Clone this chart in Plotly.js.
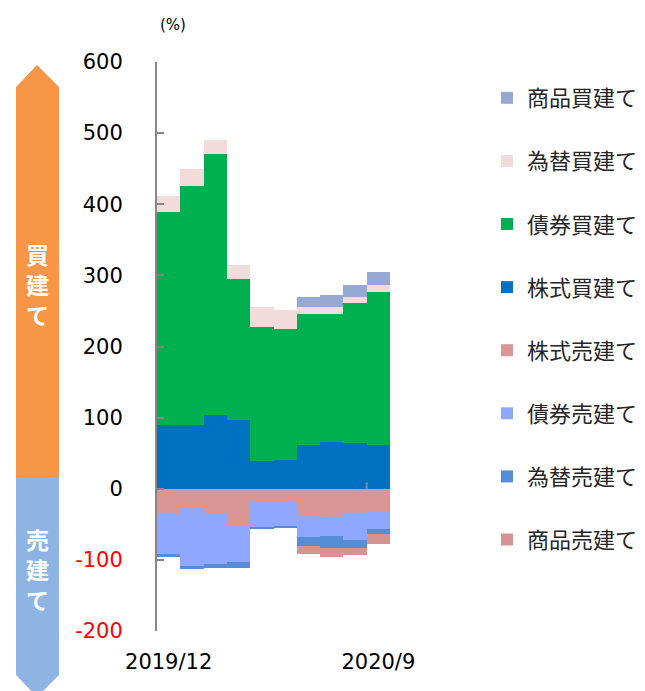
<!DOCTYPE html>
<html><head><meta charset="utf-8">
<script src="https://cdn.plot.ly/plotly-3.0.1.min.js"></script>
<style>body{margin:0;background:#fff}</style></head>
<body><div id="chart" style="width:645px;height:691px"></div>
<script>
const months = ['2019/12','2020/1','2020/2','2020/3','2020/4','2020/5','2020/6','2020/7','2020/8','2020/9'];
const shownTicks = ['2019/12','2020/9'];
const stockBuy  = [89, 90, 103, 97, 39, 40, 62, 66, 64, 61];
const bondBuy   = [300, 335, 368, 198, 189, 185, 184, 180, 197, 216];
const fxBuy     = [22, 25, 20, 19, 27, 27, 9, 10, 9, 9];
const commBuy   = [0, 0, 0, 0, 0, 0, 15, 17, 17, 19];
const stockSell = [-36, -26, -34, -51, -17, -17, -37, -41, -35, -32];
const bondSell  = [-56, -82, -72, -52, -37, -36, -31, -25, -37, -25];
const fxSell    = [-4, -5, -5, -9, -2, -2, -12, -17, -11, -7];
const commSell  = [0, 0, 0, 0, 0, 0, -12, -13, -10, -14];
const yTickVals = [-200, -100, 0, 100, 200, 300, 400, 500, 600];

const W = 645, H = 691, ML = 157, MR = 255, MT = 62, MB = 60;
const PW = W - ML - MR, PH = H - MT - MB;
const X = px => (px - ML) / PW;
const Y = py => (H - MB - py) / PH;

function bar(name, y, color, rank) {
  return {type: 'bar', name: name, x: months, y: y, width: 1,
    marker: {color: color, line: {width: 0}}, legendgroup: name, legendrank: rank,
    hoverinfo: 'skip'};
}
const data = [
  bar('株式買建て', stockBuy, '#0070C0', 4),
  bar('債券買建て', bondBuy, '#00B050', 3),
  bar('為替買建て', fxBuy, '#F2DCDB', 2),
  bar('商品買建て', commBuy, '#95A9D2', 1),
  bar('株式売建て', stockSell, '#DA9694', 5),
  bar('債券売建て', bondSell, '#8FA7FF', 6),
  bar('為替売建て', fxSell, '#558ED5', 7),
  bar('商品売建て', commSell, '#D69393', 8)
];

const yTickText = yTickVals.map(v => v < 0 ? '<span style="color:#FF0000">' + v + '</span>' : String(v));

function poly(pts) {
  return 'M' + pts.map(p => X(p[0]) + ',' + Y(p[1])).join('L') + 'Z';
}
const shapes = [
  {type: 'path', xref: 'paper', yref: 'paper', path: poly([[16,87],[37,65],[59,87],[59,477],[16,477]]),
   fillcolor: '#F79646', line: {width: 0}},
  {type: 'path', xref: 'paper', yref: 'paper', path: poly([[16,477],[59,477],[59,675],[37,697],[16,675]]),
   fillcolor: '#8DB4E2', line: {width: 0}},
  {type: 'line', xref: 'x', yref: 'y', x0: 8.5, x1: 8.5, y0: 0, y1: 9, line: {color: '#868686', width: 2}, layer: 'above'}
];

const cjk = '"Noto Sans CJK JP", "Noto Sans", sans-serif';
function vtext(t, py) {
  return {xref: 'paper', yref: 'paper', x: X(37.5), y: Y(py), text: '<b>' + t + '</b>', showarrow: false,
    xanchor: 'center', yanchor: 'middle', align: 'center', font: {family: cjk, size: 23, color: '#FFFFFF'}};
}
const annotations = [
  vtext('買<br>建<br>て', 284),
  vtext('売<br>建<br>て', 569),
  {xref: 'paper', yref: 'paper', x: X(173), y: Y(25), text: '(%)', showarrow: false,
   xanchor: 'center', yanchor: 'middle', font: {family: 'DejaVu Sans', size: 15, color: '#000'}}
];

const layout = {
  width: W, height: H,
  margin: {l: ML, r: MR, t: MT, b: MB, pad: 0, autoexpand: false},
  paper_bgcolor: '#fff', plot_bgcolor: '#fff',
  barmode: 'relative', bargap: 0,
  showlegend: true,
  legend: {x: X(487), y: Y(77), xanchor: 'left', yanchor: 'top', traceorder: 'grouped',
    tracegroupgap: 31.5, itemwidth: 30, bgcolor: 'rgba(0,0,0,0)',
    font: {family: cjk, size: 22, color: '#262626'}},
  xaxis: {type: 'category', range: [-0.5, 9.5], tickmode: 'array', tickvals: shownTicks, ticktext: shownTicks,
    showline: false, showgrid: false, zeroline: false, ticks: '', ticklabelstandoff: 16,
    tickfont: {family: 'DejaVu Sans', size: 21, color: '#000'}, fixedrange: true},
  yaxis: {range: [-200, 600], tickmode: 'array', tickvals: yTickVals, ticktext: yTickText,
    showgrid: false, showline: true, linecolor: '#868686', linewidth: 2,
    ticks: 'inside', ticklen: 7, tickwidth: 2, tickcolor: '#868686',
    zeroline: true, zerolinecolor: '#868686', zerolinewidth: 2, layer: 'above traces',
    ticklabelstandoff: 28,
    tickfont: {family: 'DejaVu Sans', size: 21, color: '#000'}, fixedrange: true},
  shapes: shapes,
  annotations: annotations
};

Plotly.newPlot('chart', data, layout, {displayModeBar: false, staticPlot: true});
</script>
</body></html>
